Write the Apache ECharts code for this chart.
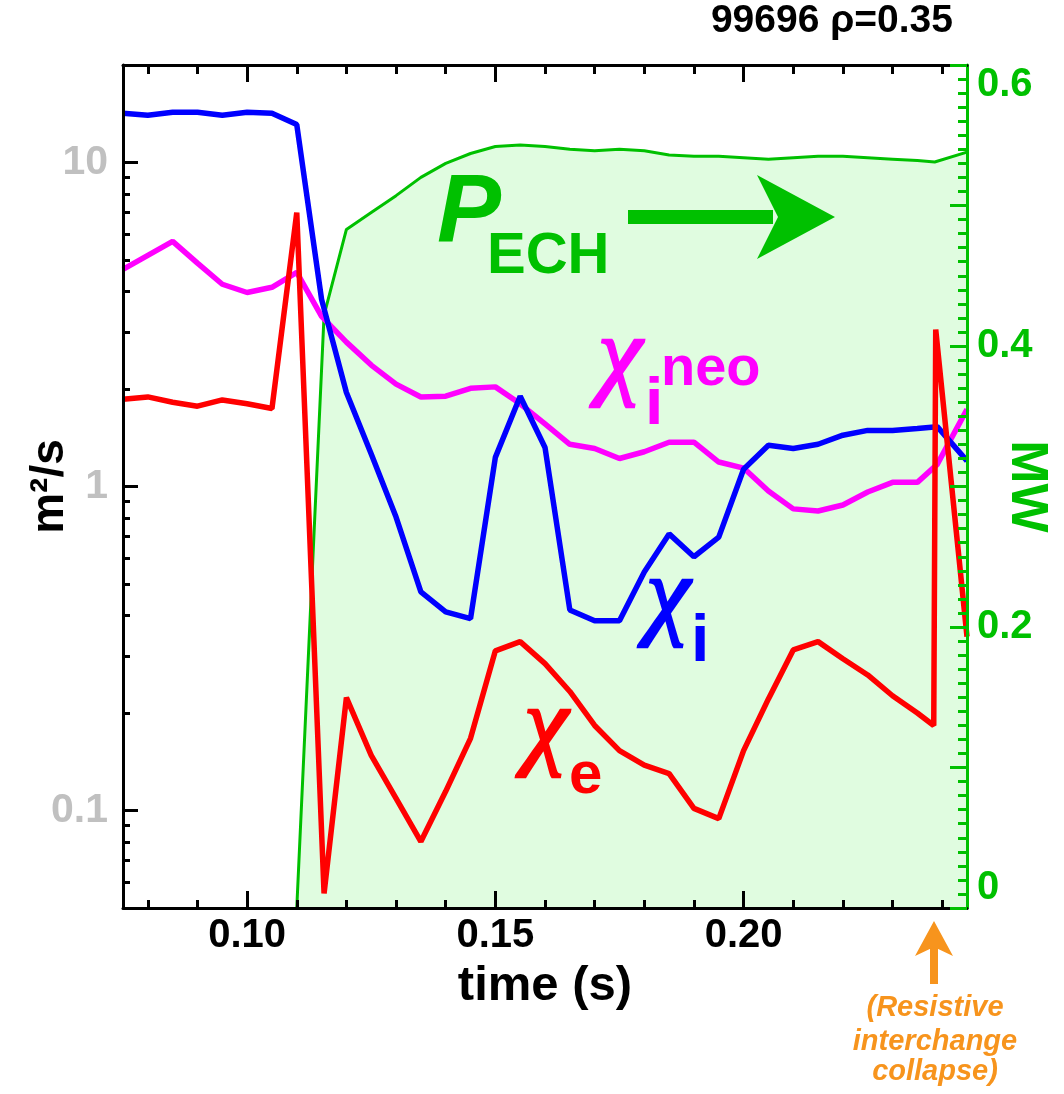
<!DOCTYPE html>
<html><head><meta charset="utf-8">
<script src="https://cdn.jsdelivr.net/npm/echarts@6/dist/echarts.min.js"></script>
<style>html,body{margin:0;padding:0;background:#fff}#c{width:1064px;height:1094px}</style>
</head><body><div id="c"></div><script>
// ---- data ----
const ionTime = [0.075,0.080,0.085,0.090,0.095,0.100,0.105,0.110,0.115,0.120,0.125,0.130,0.135,0.140,0.145,0.150,0.155,0.160,0.165,0.170,0.175,0.180,0.185,0.190,0.195,0.200,0.205,0.210,0.215,0.220,0.225,0.230,0.235,0.239,0.245];
const chiI = [14.2,14.0,14.3,14.3,14.0,14.3,14.2,13.1,3.78,1.95,1.26,0.805,0.473,0.410,0.391,1.23,1.90,1.32,0.416,0.385,0.385,0.545,0.714,0.607,0.698,1.13,1.34,1.31,1.35,1.44,1.49,1.49,1.51,1.53,1.20];
const chiINeo = [4.68,5.17,5.71,4.89,4.21,3.97,4.12,4.58,3.35,2.79,2.37,2.07,1.89,1.90,2.01,2.03,1.80,1.56,1.35,1.31,1.22,1.28,1.37,1.37,1.19,1.14,0.968,0.853,0.840,0.877,0.962,1.03,1.03,1.17,1.73];
const elecTime = [0.075,0.080,0.085,0.090,0.095,0.100,0.105,0.110,0.1155,0.120,0.125,0.130,0.135,0.140,0.145,0.150,0.155,0.160,0.165,0.170,0.175,0.180,0.185,0.190,0.195,0.200,0.205,0.210,0.215,0.220,0.225,0.230,0.235,0.2383,0.2387,0.245];
const chiE = [1.86,1.89,1.82,1.77,1.85,1.80,1.74,7.0,0.0555,0.223,0.148,0.109,0.0802,0.1146,0.167,0.311,0.332,0.284,0.233,0.183,0.153,0.138,0.130,0.1015,0.0944,0.153,0.221,0.313,0.332,0.294,0.262,0.226,0.200,0.183,3.05,0.344];
const echTime = [0.110,0.1155,0.120,0.125,0.130,0.135,0.140,0.145,0.150,0.155,0.160,0.165,0.170,0.175,0.180,0.185,0.190,0.195,0.200,0.205,0.210,0.215,0.220,0.225,0.230,0.235,0.2385,0.245];
const pEchMW = [0,0.422,0.483,0.495,0.507,0.520,0.530,0.537,0.542,0.543,0.542,0.540,0.539,0.540,0.539,0.536,0.535,0.535,0.534,0.533,0.534,0.535,0.535,0.534,0.533,0.532,0.531,0.538];
// ticks / labels
const timeMajor = [0.10,0.15,0.20];
const timeMinor = [0.08,0.09,0.11,0.12,0.13,0.14,0.16,0.17,0.18,0.19,0.21,0.22,0.23,0.24];
const chiMajor = [0.1,1,10];
const chiMinor = [0.06,0.07,0.08,0.09,0.2,0.3,0.4,0.5,0.6,0.7,0.8,0.9,2,3,4,5,6,7,8,9];
const mwLabels = [0,0.2,0.4,0.6];

const zip = (a,b)=>a.map((t,i)=>[t,b[i]]);
const SANS = '"Liberation Sans",Arial,sans-serif';
const SERIF = '"Liberation Serif","DejaVu Serif",serif';
const GREEN = '#00c000';

function xAx(pos, vals, len, showLine, showLabel){
  return {type:'value', position:pos, min:0.075, max:0.245, z:10,
    axisLine:{show:showLine, onZero:false, lineStyle:{color:'#000', width:3}},
    axisTick:{show:true, inside:true, length:len, customValues:vals, lineStyle:{color:'#000', width:3}},
    axisLabel:{show:showLabel, customValues:vals, margin:8, color:'#000', fontFamily:SANS, fontWeight:'bold', fontSize:40,
      formatter:v=>v.toFixed(2)},
    splitLine:{show:false}, nameMoveOverlap:false};
}
function yLog(vals, len, main){
  return {type:'log', logBase:10, position:'left', min:0.05, max:20, z:10,
    axisLine:{show:main, onZero:false, lineStyle:{color:'#000', width:3}},
    axisTick:{show:true, inside:true, length:len, customValues:vals, lineStyle:{color:'#000', width:3}},
    axisLabel:{show:main, customValues:vals, margin:15, color:'#c0c0c0', fontFamily:SANS, fontWeight:'bold', fontSize:41,
      formatter:v=> v>=1 ? String(Math.round(v)) : v.toFixed(1)},
    splitLine:{show:false}, minorTick:{show:false},
    name: main ? 'm²/s' : '', nameLocation:'middle', nameGap:50, nameRotate:90, nameMoveOverlap:false,
    nameTextStyle:{color:'#000', fontFamily:SANS, fontWeight:'bold', fontSize:46}};
}

const chart = echarts.init(document.getElementById('c'), null, {renderer:'canvas'});

function T(text, x, baseY, size, family, style, color, align, strokeW){
  const st = {text:text, font: style+' '+size+'px '+family, fill:color,
      align: align||'left', textAlign: align||'left', verticalAlign:'middle', textVerticalAlign:'middle'};
  if (strokeW) { st.stroke = color; st.lineWidth = strokeW; }
  return {type:'text', x:x, y: baseY - 0.34*size, z:100, style:st};
}

const option = {
  animation:false,
  backgroundColor:'#fff',
  grid:{left:123, right:97, top:65, bottom:186, containLabel:false, outerBoundsMode:'none'},
  xAxis:[
    Object.assign(xAx('bottom', timeMajor, 17, true, true), {name:'time (s)', nameLocation:'middle', nameGap:54,
      nameTextStyle:{color:'#000', fontFamily:SANS, fontWeight:'bold', fontSize:49}}),
    xAx('bottom', timeMinor, 8, false, false),
    xAx('top', timeMajor, 17, true, false),
    xAx('top', timeMinor, 9, false, false)
  ],
  yAxis:[
    yLog(chiMajor, 15, true),
    yLog(chiMinor, 7, false),
    {type:'value', position:'right', min:0, max:0.6, interval:0.1, z:10,
     axisLine:{show:true, onZero:false, lineStyle:{color:GREEN, width:3}},
     axisTick:{show:true, inside:true, length:17, lineStyle:{color:GREEN, width:3}},
     minorTick:{show:true, splitNumber:10, length:9, lineStyle:{color:GREEN, width:3}},
     axisLabel:{customValues:mwLabels, margin:10, color:GREEN, fontFamily:SANS, fontWeight:'bold', fontSize:40,
       verticalAlignMinLabel:'bottom', verticalAlignMaxLabel:'top',
       formatter:v=> v===0 ? '0' : v.toFixed(1)},
     splitLine:{show:false}, minorSplitLine:{show:false},
     name:'MW', nameLocation:'middle', nameGap:33, nameRotate:-90, nameMoveOverlap:false,
     nameTextStyle:{color:GREEN, fontFamily:SANS, fontWeight:'bold', fontSize:52}}
  ],
  series:[
    {name:'P_ECH', type:'line', xAxisIndex:0, yAxisIndex:2, data:zip(echTime,pEchMW), symbol:'none', z:1,
     lineStyle:{color:GREEN, width:3}, areaStyle:{color:'#e0fce0', origin:'start', opacity:1}},
    {name:'chi_i_neo', type:'line', xAxisIndex:0, yAxisIndex:0, data:zip(ionTime,chiINeo), symbol:'none', z:3,
     lineStyle:{color:'#ff00ff', width:5.5}},
    {name:'chi_i', type:'line', xAxisIndex:0, yAxisIndex:0, data:zip(ionTime,chiI), symbol:'none', z:4,
     lineStyle:{color:'#0000ff', width:5.5}},
    {name:'chi_e', type:'line', xAxisIndex:0, yAxisIndex:0, data:zip(elecTime,chiE), symbol:'none', z:5,
     lineStyle:{color:'#ff0000', width:5.5}}
  ],
  graphic:[
    T('99696 ρ=0.35', 953, 35, 39, SANS, 'bold', '#000', 'right'),
    // P_ECH label and arrow
    T('P', 437, 247, 96, SANS, 'italic bold', GREEN),
    T('ECH', 487, 277, 58, SANS, 'bold', GREEN),
    {type:'rect', z:100, shape:{x:628, y:210, width:145, height:14}, style:{fill:GREEN}},
    {type:'polygon', z:100, shape:{points:[[835,217],[757,175],[778,217],[757,259]]}, style:{fill:GREEN}},
    // chi labels
    T('χ', 598, 394, 100, SERIF, 'italic', '#ff00ff', 'left', 2.5),
    T('i', 645, 428, 66, SANS, 'bold', '#ff00ff'),
    T('neo', 661, 389, 56, SANS, 'bold', '#ff00ff'),
    T('χ', 646, 634, 100, SERIF, 'italic', '#0000ff', 'left', 2.5),
    T('i', 691, 665, 66, SANS, 'bold', '#0000ff'),
    T('χ', 524, 764, 100, SERIF, 'italic', '#ff0000', 'left', 2.5),
    T('e', 569, 797, 60, SANS, 'bold', '#ff0000'),
    // orange annotation
    {type:'rect', z:100, shape:{x:930, y:946, width:8, height:38}, style:{fill:'#f7941d'}},
    {type:'polygon', z:100, shape:{points:[[934,921],[915,956],[934,947],[953,956]]}, style:{fill:'#f7941d'}},
    T('(Resistive', 935, 1018, 29, SANS, 'italic bold', '#f7941d', 'center'),
    T('interchange', 935, 1052, 29, SANS, 'italic bold', '#f7941d', 'center'),
    T('collapse)', 935, 1082, 29, SANS, 'italic bold', '#f7941d', 'center')
  ]
};
chart.setOption(option);
</script></body></html>
